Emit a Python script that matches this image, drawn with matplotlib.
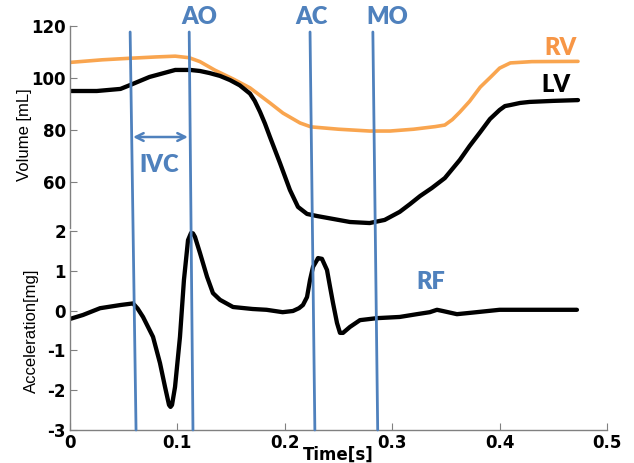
import numpy as np
import matplotlib.pyplot as plt
from matplotlib.patches import ConnectionPatch

plt.rcParams['font.weight'] = 'bold'
plt.rcParams['axes.unicode_minus'] = False

# volume curves (mL)
t_rv = [0.0, 0.03, 0.056, 0.08, 0.098, 0.111, 0.121, 0.135, 0.152, 0.1676, 0.1862,
        0.1983, 0.2142, 0.2244, 0.25, 0.279, 0.298, 0.32, 0.34, 0.349, 0.356, 0.363,
        0.372, 0.382, 0.392, 0.40, 0.41, 0.43, 0.473]
rv = [106.0, 107.0, 107.6, 108.1, 108.4, 107.8, 106.3, 103.0, 99.6, 96.2, 90.4,
      86.5, 82.7, 81.2, 80.3, 79.6, 79.6, 80.3, 81.3, 81.9, 84.0, 86.9,
      91.0, 96.5, 100.5, 103.8, 105.8, 106.3, 106.4]

t_lv = [0.0, 0.025, 0.047, 0.056, 0.074, 0.0838, 0.098, 0.112, 0.121, 0.130, 0.1397,
        0.149, 0.158, 0.1676, 0.172, 0.1769, 0.1815, 0.1862, 0.1955, 0.2048, 0.2123,
        0.2207, 0.23, 0.2607, 0.279, 0.293, 0.307, 0.3166, 0.326, 0.337, 0.349,
        0.363, 0.372, 0.382, 0.391, 0.40, 0.405, 0.41, 0.419, 0.428, 0.45, 0.473]
lv = [95.0, 95.0, 95.8, 97.3, 100.4, 101.5, 103.1, 103.1, 102.7, 101.9, 100.8,
      99.2, 97.2, 94.0, 91.2, 87.0, 82.5, 77.3, 67.3, 56.9, 50.4,
      47.7, 46.9, 44.6, 44.2, 45.4, 48.5, 51.5, 54.6, 57.7, 61.5,
      68.5, 73.8, 79.2, 84.2, 87.7, 89.2, 89.6, 90.4, 90.8, 91.2, 91.5]

# acceleration (mg)
t_acc = [0.0, 0.0121, 0.028, 0.047, 0.0587, 0.063, 0.068, 0.0773, 0.0838, 0.0885,
         0.0922, 0.0936, 0.095, 0.0978, 0.1024, 0.1061, 0.1099, 0.1127, 0.1145,
         0.1164, 0.121, 0.1276, 0.1331, 0.1397, 0.1518, 0.170, 0.183, 0.198, 0.2076,
         0.2132, 0.2169, 0.2207, 0.2235, 0.2263, 0.230, 0.2309, 0.2346, 0.2393,
         0.2421, 0.2449, 0.2486, 0.2514, 0.2542, 0.2607, 0.270, 0.2858, 0.307,
         0.323, 0.335, 0.3417, 0.347, 0.3603, 0.375, 0.40, 0.472]
acc = [-0.21, -0.11, 0.06, 0.14, 0.18, 0.05, -0.16, -0.66, -1.32, -1.92,
       -2.37, -2.42, -2.37, -1.92, -0.66, 0.77, 1.77, 1.95, 1.94,
       1.85, 1.45, 0.85, 0.44, 0.27, 0.09, 0.04, 0.02, -0.04, -0.01,
       0.06, 0.14, 0.34, 0.77, 1.1, 1.27, 1.32, 1.3, 1.02,
       0.6, 0.19, -0.31, -0.56, -0.56, -0.41, -0.24, -0.19, -0.16,
       -0.09, -0.04, 0.02, -0.01, -0.09, -0.05, 0.02, 0.02]

# event lines (IVC start, AO, AC, MO): time at top and at bottom of the slanted lines
ev_top = [0.056, 0.111, 0.2235, 0.282]
ev_bot = [0.0615, 0.1145, 0.228, 0.2865]
ev_names = ["", "AO", "AC", "MO"]
ev_label_x = [0, 0.120, 0.2253, 0.295]

blue = '#4F81BD'
orange = '#F9A54F'
gray = '#808080'

fig = plt.figure(figsize=(6.34, 4.63), dpi=100)
ax1 = fig.add_axes([0.1104, 0.5076, 0.847, 0.4362])
ax2 = fig.add_axes([0.1104, 0.0713, 0.847, 0.4298], sharex=ax1)

kw = dict(solid_joinstyle='round', solid_capstyle='round')
ax1.plot(t_rv, rv, color=orange, lw=2.6, **kw)
ax1.plot(t_lv, lv, color='black', lw=3.1, **kw)
ax2.plot(t_acc, acc, color='black', lw=3.1, **kw)

ax1.set_xlim(0, 0.5)
ax1.set_ylim(42.3, 120)
ax2.set_ylim(-3, 2)
ax1.set_yticks([60, 80, 100, 120])
ax2.set_yticks([-3, -2, -1, 0, 1, 2])
ax2.set_xticks([0, 0.1, 0.2, 0.3, 0.4, 0.5])
ax2.set_xticklabels(['0', '0.1', '0.2', '0.3', '0.4', '0.5'])

for ax in (ax1, ax2):
    for s in ('top', 'right'):
        ax.spines[s].set_visible(False)
    for s in ('left', 'bottom'):
        ax.spines[s].set_color(gray)
        ax.spines[s].set_linewidth(1.0)
    ax.tick_params(direction='in', length=5, color=gray, labelsize=12, pad=3)
    ax.patch.set_alpha(0)
ax1.spines['bottom'].set_visible(False)
ax1.tick_params(axis='x', bottom=False, labelbottom=False)

ylab_font = dict(fontsize=12, fontweight='normal',
                 family=['Liberation Sans Narrow', 'Liberation Sans'])
ax1.set_ylabel('Volume [mL]', **ylab_font)
ax2.set_ylabel('Acceleration[mg]', **ylab_font)
ax1.yaxis.set_label_coords(-0.071, 0.46)
ax2.yaxis.set_label_coords(-0.057, 0.5)
ax2.set_xlabel('Time[s]', fontsize=12, fontweight='bold')
ax2.xaxis.set_label_coords(0.5, -0.08)

# slanted event lines across both panels
for xt, xb in zip(ev_top, ev_bot):
    con = ConnectionPatch(xyA=(xt, 117.7), coordsA=ax1.transData,
                          xyB=(xb, -3), coordsB=ax2.transData,
                          color=blue, lw=2)
    fig.add_artist(con)

lab_font = dict(family=['Lato', 'DejaVu Sans'], fontweight='heavy', fontsize=17)
for name, lx in zip(ev_names, ev_label_x):
    if name:
        ax1.text(lx, 123.5, name, color=blue, ha='center', va='center', clip_on=False, **lab_font)

ax1.text(0.457, 111.5, 'RV', color='#F79646', ha='center', va='center', **lab_font)
ax1.text(0.4525, 97.3, 'LV', color='black', ha='center', va='center', **lab_font)
ax1.text(0.0829, 66.5, 'IVC', color=blue, ha='center', va='center', **lab_font)
ax2.text(0.336, 0.72, 'RF', color=blue, ha='center', va='center', **lab_font)

ax1.annotate('', xy=(0.1098, 77.3), xytext=(0.0587, 77.3),
             arrowprops=dict(arrowstyle='<->', color=blue, lw=1.8,
                             shrinkA=0, shrinkB=0, mutation_scale=14))

plt.savefig('out.png', dpi=100)
